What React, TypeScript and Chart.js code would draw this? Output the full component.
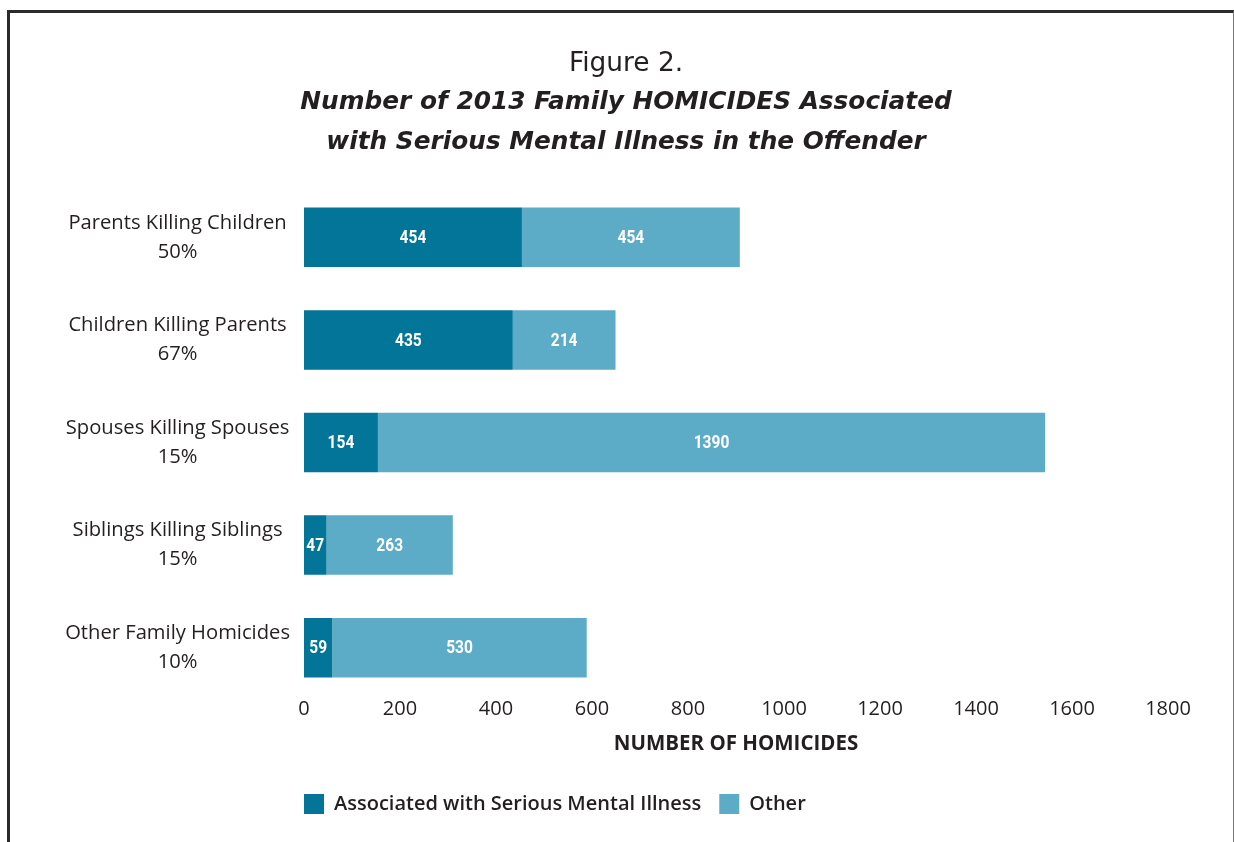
import { useEffect, useRef } from "react";
import { Chart, registerables } from "chart.js";

Chart.register(...registerables);

const categories: string[][] = [
  ["Parents Killing Children", "50%"],
  ["Children Killing Parents", "67%"],
  ["Spouses Killing Spouses", "15%"],
  ["Siblings Killing Siblings", "15%"],
  ["Other Family Homicides", "10%"],
];
const smiValues = [454, 435, 154, 47, 59];
const otherValues = [454, 214, 1390, 263, 530];
const seriesNames = ["Associated with Serious Mental Illness", "Other"];
const xMin = 0;
const xMax = 1800;
const xStep = 200;

const TEXT = "#231f20";
const DARK = "#027598";
const LIGHT = "#5cacc8";
const FONT = "'Open Sans', Lato, sans-serif";
const TITLE_FONT = "'DejaVu Sans', 'Open Sans', sans-serif";

const barLabels = {
  id: "barLabels",
  afterDatasetsDraw(chart: any) {
    const ctx = chart.ctx;
    chart.data.datasets.forEach((ds: any, di: number) => {
      const meta = chart.getDatasetMeta(di);
      meta.data.forEach((bar: any, i: number) => {
        const p = bar.getProps(["x", "y", "base"], true);
        ctx.save();
        ctx.font = "bold 18.5px Roboto, 'Liberation Sans', sans-serif";
        ctx.fillStyle = "#ffffff";
        ctx.textAlign = "center";
        ctx.textBaseline = "middle";
        ctx.translate((p.x + p.base) / 2, p.y + 1);
        ctx.scale(0.84, 1);
        ctx.fillText(String(ds.data[i]), 0, 0);
        ctx.restore();
      });
    });
  },
};

const layoutShift = {
  id: "layoutShift",
  afterLayout(chart: any) {
    const lg = chart.legend;
    if (lg) lg.left = chart.chartArea.left - 18;
    // centre the title block as in the original figure
    chart.boxes.forEach((b: any) => {
      if (b.position === "top" && b.options && b.options.text !== undefined) {
        b.left += 37;
        b.right += 37;
      }
    });
  },
};

export default function App() {
  const ref = useRef<HTMLCanvasElement>(null);
  useEffect(() => {
    if (!ref.current) return;
    const chart = new Chart(ref.current, {
      type: "bar",
      data: {
        labels: categories,
        datasets: [
          { label: seriesNames[0], data: smiValues, backgroundColor: DARK, borderWidth: 0, barPercentage: 0.58, categoryPercentage: 1 },
          { label: seriesNames[1], data: otherValues, backgroundColor: LIGHT, borderWidth: 0, barPercentage: 0.58, categoryPercentage: 1 },
        ],
      },
      plugins: [barLabels, layoutShift],
      options: {
        indexAxis: "y",
        responsive: false,
        animation: false,
        layout: { padding: { left: 0, right: 64, top: 0, bottom: 18 } },
        scales: {
          x: {
            stacked: true,
            min: xMin,
            max: xMax,
            grid: { display: false, drawTicks: false },
            border: { display: false },
            ticks: {
              stepSize: xStep,
              color: TEXT,
              padding: 0,
              font: { family: FONT, size: 20, lineHeight: 1 },
              callback: (v: any) => String(v),
            },
            title: {
              display: true,
              text: "NUMBER OF HOMICIDES",
              color: TEXT,
              font: { family: FONT, size: 20.5, weight: "bold", lineHeight: 1.2 },
              padding: { top: 12.7, bottom: 19.7 },
            },
          },
          y: {
            stacked: true,
            grid: { display: false, drawTicks: false },
            border: { display: false },
            afterFit(scale: any) {
              scale.width = 294;
            },
            ticks: {
              crossAlign: "center",
              padding: 14,
              color: TEXT,
              font: { family: FONT, size: 20.2, lineHeight: 1.436 },
            },
          },
        },
        plugins: {
          title: {
            display: true,
            text: "Figure 2.",
            color: TEXT,
            font: { family: TITLE_FONT, size: 26.4, weight: "normal", lineHeight: 1.2 },
            padding: { top: 35, bottom: 3.3 },
          },
          subtitle: {
            display: true,
            text: ["Number of 2013 Family HOMICIDES Associated", "with Serious Mental Illness in the Offender"],
            color: TEXT,
            font: { family: TITLE_FONT, size: 24.8, weight: "bold", style: "italic", lineHeight: 1.613 },
            padding: { top: 0, bottom: 23 },
          },
          legend: {
            position: "bottom",
            align: "start",
            labels: {
              boxWidth: 20,
              boxHeight: 20,
              padding: 18,
              color: TEXT,
              font: { family: FONT, size: 20, weight: 600 },
            },
          },
          tooltip: { enabled: false },
        },
      } as any,
    });
    return () => chart.destroy();
  }, []);

  return (
    <div
      style={{
        position: "fixed",
        left: 7,
        top: 10,
        width: 1227,
        height: 832,
        boxSizing: "border-box",
        borderLeft: "3px solid #2b2b2b",
        borderTop: "3px solid #2b2b2b",
        borderRight: "1px solid #7a7a7a",
        background: "#fff",
      }}
    >
      <canvas ref={ref} width={1222} height={829} style={{ display: "block" }} />
    </div>
  );
}
